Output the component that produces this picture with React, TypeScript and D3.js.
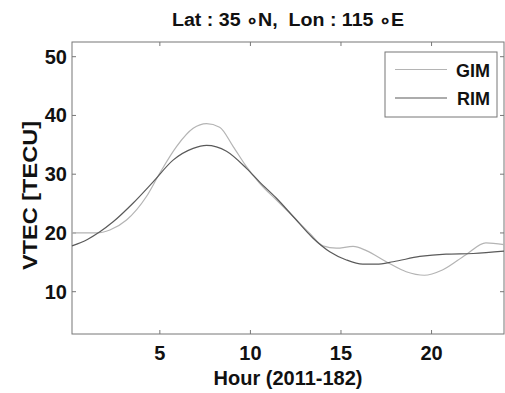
import React, { useEffect, useRef } from "react";
import * as d3 from "d3";

// hours and VTEC values
const gimHours = [0.15, 1.0, 1.5, 2.24, 3.16, 4.26, 5.0, 5.92, 6.84, 7.58, 8.3, 9.05, 9.78, 10.5, 11.44, 12.36, 13.28, 14.0, 14.75, 15.67, 16.4, 17.5, 18.6, 19.6, 20.6, 21.9, 23.0, 24.0];
const gimValues = [20.0, 20.0, 20.0, 20.5, 22.2, 26.2, 30.2, 34.7, 37.8, 38.6, 38.0, 34.7, 31.3, 28.5, 25.6, 22.8, 19.9, 17.8, 17.4, 17.7, 17.0, 15.1, 13.4, 12.8, 13.7, 16.3, 18.3, 18.0];

const rimHours = [0.15, 1.0, 1.69, 2.42, 3.53, 4.63, 5.73, 6.84, 7.58, 8.68, 9.78, 10.5, 11.44, 12.36, 13.46, 14.38, 15.3, 16.2, 16.96, 17.88, 19.35, 20.8, 22.3, 24.0];
const rimValues = [17.8, 18.9, 20.2, 21.9, 25.1, 28.7, 32.4, 34.4, 34.9, 33.9, 31.0, 28.7, 25.9, 22.8, 19.1, 16.8, 15.4, 14.7, 14.7, 15.1, 16.0, 16.4, 16.5, 16.9];

const xTicks = [5, 10, 15, 20];
const yTicks = [10, 20, 30, 40, 50];
const seriesNames = ["GIM", "RIM"];
const seriesColors = ["#b4b4b4", "#5a5a5a"];

const W = 505;
const H = 393;
const margin = { left: 72, right: 1, top: 42, bottom: 59 };
const font = "Arial, 'Liberation Sans', sans-serif";

function VtecChart() {
  const svgRef = useRef<SVGSVGElement>(null);

  useEffect(() => {
    const svg = d3.select(svgRef.current);
    svg.selectAll("*").remove();

    const x = d3.scaleLinear().domain([0.15, 24]).range([margin.left, W - margin.right]);
    const y = d3.scaleLinear().domain([2.8, 52.5]).range([H - margin.bottom, margin.top]);
    const [x0, x1] = x.range();
    const [y0, y1] = y.range();

    const g = svg.append("g");

    // plot box
    g.append("rect")
      .attr("x", x0).attr("y", y1)
      .attr("width", x1 - x0).attr("height", y0 - y1)
      .attr("fill", "none").attr("stroke", "#777").attr("stroke-width", 1);

    // inward ticks on all four sides
    const tl = 4;
    xTicks.forEach(t => {
      g.append("line").attr("x1", x(t)).attr("x2", x(t)).attr("y1", y0).attr("y2", y0 - tl).attr("stroke", "#777");
      g.append("line").attr("x1", x(t)).attr("x2", x(t)).attr("y1", y1).attr("y2", y1 + tl).attr("stroke", "#777");
      g.append("text").attr("x", x(t)).attr("y", y0 + 26)
        .attr("text-anchor", "middle").attr("font-family", font)
        .attr("font-weight", "bold").attr("font-size", 20).attr("fill", "#111").text(t);
    });
    yTicks.forEach(t => {
      g.append("line").attr("x1", x0).attr("x2", x0 + tl).attr("y1", y(t)).attr("y2", y(t)).attr("stroke", "#777");
      g.append("line").attr("x1", x1).attr("x2", x1 - tl).attr("y1", y(t)).attr("y2", y(t)).attr("stroke", "#777");
      g.append("text").attr("x", x0 - 5).attr("y", y(t) + 7)
        .attr("text-anchor", "end").attr("font-family", font)
        .attr("font-weight", "bold").attr("font-size", 20).attr("fill", "#111").text(t);
    });

    const line = d3.line<[number, number]>()
      .x(d => x(d[0])).y(d => y(d[1]))
      .curve(d3.curveMonotoneX);

    const series: [number, number][][] = [
      gimHours.map((h, i) => [h, gimValues[i]]),
      rimHours.map((h, i) => [h, rimValues[i]]),
    ];
    series.forEach((s, i) => {
      g.append("path").attr("d", line(s))
        .attr("fill", "none").attr("stroke", seriesColors[i]).attr("stroke-width", 1.2);
    });

    // legend
    const lx = 385, ly = 52, lw = 112, lh = 65;
    g.append("rect").attr("x", lx).attr("y", ly).attr("width", lw).attr("height", lh)
      .attr("fill", "#fff").attr("stroke", "#777");
    seriesNames.forEach((name, i) => {
      const yy = ly + 17.5 + i * 28.5;
      g.append("line").attr("x1", lx + 10).attr("x2", lx + 62).attr("y1", yy).attr("y2", yy)
        .attr("stroke", seriesColors[i]).attr("stroke-width", 1.2);
      g.append("text").attr("x", lx + lw - 7).attr("y", yy + 7)
        .attr("text-anchor", "end").attr("font-family", font)
        .attr("font-weight", "bold").attr("font-size", 18).attr("fill", "#111").text(name);
    });

    // title and axis labels
    g.append("text").attr("x", 172).attr("y", 26)
      .attr("font-family", font)
      .attr("font-weight", "bold").attr("font-size", 18).attr("fill", "#111")
      .attr("textLength", 232).attr("lengthAdjust", "spacingAndGlyphs")
      .attr("xml:space", "preserve")
      .text("Lat : 35 \u2218N,  Lon : 115 \u2218E");
    g.append("text").attr("x", (x0 + x1) / 2).attr("y", 385)
      .attr("text-anchor", "middle").attr("font-family", font)
      .attr("font-weight", "bold").attr("font-size", 20).attr("fill", "#111")
      .text("Hour (2011-182)");
    g.append("text")
      .attr("transform", `translate(37, 270) rotate(-90)`)
      .attr("font-family", font)
      .attr("font-weight", "bold").attr("font-size", 20).attr("fill", "#111")
      .attr("textLength", 149).attr("lengthAdjust", "spacingAndGlyphs")
      .text("VTEC [TECU]");
  }, []);

  return <svg ref={svgRef} width={W} height={H} style={{ display: "block" }} />;
}

export default function App() {
  return (
    <div style={{ position: "absolute", left: 0, top: 0 }}>
      <VtecChart />
    </div>
  );
}
